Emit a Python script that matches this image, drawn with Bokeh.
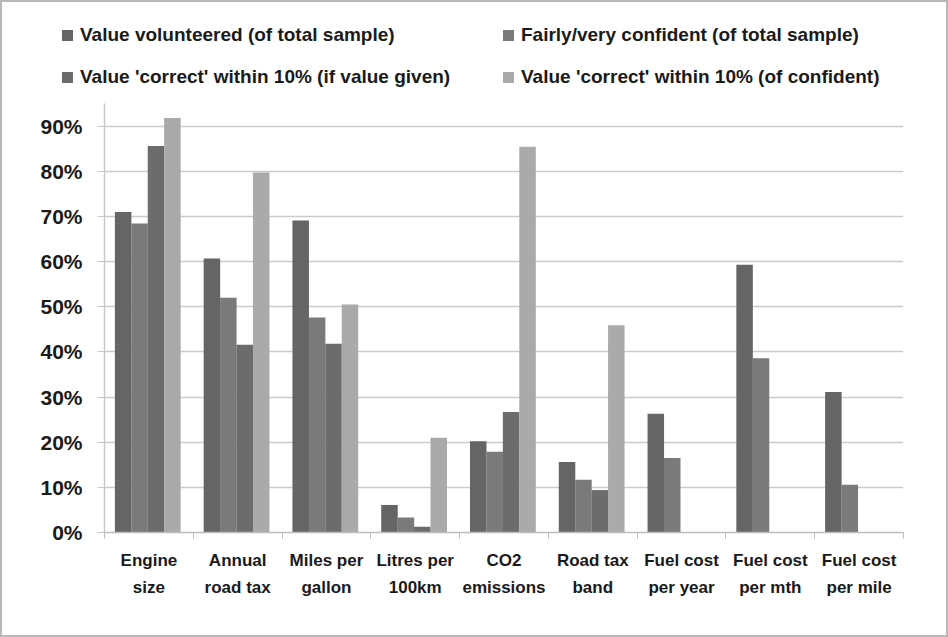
from bokeh.plotting import figure
from bokeh.layouts import column
from bokeh.models import (ColumnDataSource, FixedTicker, NumeralTickFormatter, Range1d, Div)
from bokeh.transform import dodge
from bokeh.embed import file_html
from bokeh.resources import INLINE

nan = float("nan")

categories = ["Engine size", "Annual road tax", "Miles per gallon", "Litres per 100km",
              "CO2 emissions", "Road tax band", "Fuel cost per year", "Fuel cost per mth",
              "Fuel cost per mile"]
x_labels = ["Engine\nsize", "Annual\nroad tax", "Miles per\ngallon", "Litres per\n100km",
            "CO2\nemissions", "Road tax\nband", "Fuel cost\nper year", "Fuel cost\nper mth",
            "Fuel cost\nper mile"]
series_names = ["Value volunteered (of total sample)",
                "Fairly/very confident (of total sample)",
                "Value 'correct' within 10% (if value given)",
                "Value 'correct' within 10% (of confident)"]
value_volunteered = [0.710, 0.607, 0.691, 0.061, 0.202, 0.156, 0.263, 0.593, 0.311]
fairly_confident = [0.684, 0.520, 0.476, 0.033, 0.179, 0.117, 0.165, 0.386, 0.106]
correct_if_given = [0.856, 0.416, 0.418, 0.013, 0.267, 0.094, nan, nan, nan]
correct_of_confident = [0.918, 0.797, 0.505, 0.210, 0.854, 0.459, nan, nan, nan]
y_ticks = [0.0, 0.1, 0.2, 0.3, 0.4, 0.5, 0.6, 0.7, 0.8, 0.9]

colors = ["#656565", "#7a7a7a", "#6c6c6c", "#aaaaaa"]
offsets = [-0.29, -0.105, 0.08, 0.265]
bar_w = 0.186

n = len(categories)
centers = [i + 0.5 for i in range(n)]
src = ColumnDataSource(dict(x=centers, s1=value_volunteered, s2=fairly_confident,
                            s3=correct_if_given, s4=correct_of_confident))

# ---------------- main chart ----------------
p = figure(width=944, height=536, x_range=Range1d(0, n), y_range=Range1d(0, 0.95),
           output_backend="svg", toolbar_location=None,
           min_border_left=102, min_border_right=43, min_border_top=4, min_border_bottom=103)
p.outline_line_color = None
p.background_fill_color = "white"
p.border_fill_color = "white"

for key, off, col in zip(["s1", "s2", "s3", "s4"], offsets, colors):
    p.vbar(x=dodge("x", off, range=p.x_range), top=key, width=bar_w, source=src,
           fill_color=col, line_color=None)

# x axis
p.xaxis.ticker = FixedTicker(ticks=centers, minor_ticks=list(range(n + 1)))
p.xaxis.major_label_overrides = {c: lab for c, lab in zip(centers, x_labels)}
p.xaxis.major_tick_line_color = None
p.xaxis.minor_tick_line_color = "#bdbdbd"
p.xaxis.minor_tick_out = 6
p.xaxis.minor_tick_in = 0
p.xaxis.axis_line_color = "#bdbdbd"
p.xaxis.axis_line_width = 1.5
p.xaxis.major_label_text_font = "Liberation Sans"
p.xaxis.major_label_text_font_style = "bold"
p.xaxis.major_label_text_font_size = "17px"
p.xaxis.major_label_text_color = "#1a1a1a"
p.xaxis.major_label_text_line_height = 1.47
p.xaxis.major_label_standoff = 12
p.xgrid.visible = False

# y axis
p.yaxis.ticker = FixedTicker(ticks=y_ticks)
p.yaxis.formatter = NumeralTickFormatter(format="0%")
p.yaxis.minor_tick_line_color = None
p.yaxis.major_tick_out = 7
p.yaxis.major_tick_in = 0
p.yaxis.major_tick_line_color = "#c8c8c8"
p.yaxis.axis_line_color = "#c8c8c8"
p.yaxis.axis_line_width = 1.5
p.yaxis.major_label_text_font = "Liberation Sans"
p.yaxis.major_label_text_font_style = "bold"
p.yaxis.major_label_text_font_size = "21px"
p.yaxis.major_label_text_color = "#1a1a1a"
p.yaxis.major_label_standoff = 15
p.ygrid.grid_line_color = "#cbcbcb"
p.ygrid.grid_line_width = 1.5

# ---------------- legend strip (2 columns x 2 rows) ----------------
legend_slots = [(60, 22), (501, 22), (60, 64), (501, 64)]  # left, top of each entry
entries = []
for (lx, ty), name, col in zip(legend_slots, series_names, colors):
    entries.append(
        f'<div style="position:absolute;left:{lx}px;top:{ty}px;height:22px;'
        f'display:flex;align-items:center;white-space:nowrap;">'
        f'<span style="display:inline-block;width:11px;height:11px;background:{col};'
        f'margin-right:7px;"></span><span>{name}</span></div>'
    )
legend_html = (
    '<div style="position:relative;width:944px;height:97px;'
    "font-family:'Liberation Sans',sans-serif;font-weight:bold;font-size:19px;"
    'color:#1a1a1a;background:white;">' + "".join(entries) + "</div>"
)
legend_div = Div(text=legend_html, width=944, height=97, margin=0)

layout = column(legend_div, p, spacing=0, styles={"border": "2px solid #b8b8b8"})
open("out.html", "w").write(file_html(layout, INLINE))
